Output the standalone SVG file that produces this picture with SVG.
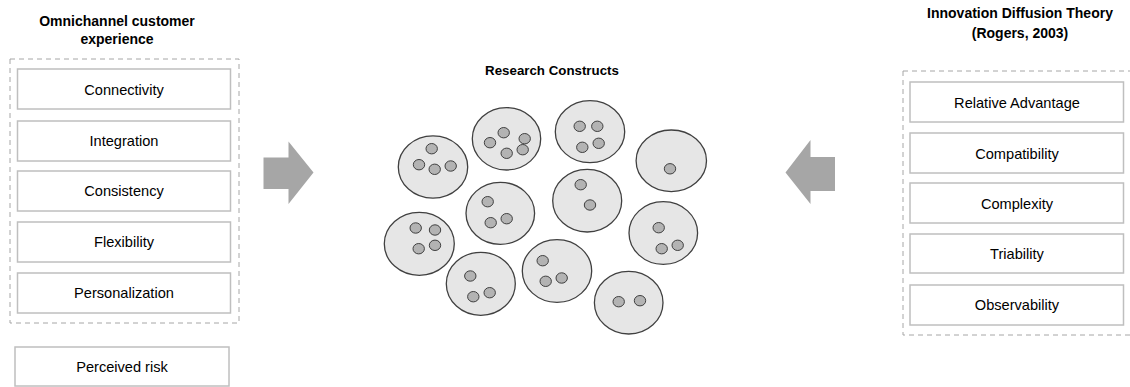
<svg xmlns="http://www.w3.org/2000/svg" width="1130" height="387" viewBox="0 0 1130 387">
<style>
.title{font-family:"Liberation Sans",Arial,sans-serif;font-weight:bold;font-size:14px;fill:#000;text-anchor:middle}
.lbl{font-family:"Liberation Sans",Arial,sans-serif;font-size:14.6px;fill:#000;text-anchor:middle}
.box{fill:#fff;stroke:#bfbfbf;stroke-width:1.5}
.group{fill:none;stroke:#a6a6a6;stroke-width:1;stroke-dasharray:5 4}
.big{fill:#e6e6e6;stroke:#404040;stroke-width:1.3}
.dot{fill:#b3b3b3;stroke:#404040;stroke-width:1}
.arrow{fill:#a6a6a6}
</style>
<rect width="1130" height="387" fill="#fff"/>

<g id="left-panel">
<text class="title" x="117" y="26">Omnichannel customer</text>
<text class="title" x="117" y="44">experience</text>
<rect class="group" x="10" y="59" width="229" height="264"/>
<g id="connectivity"><rect class="box" x="17.5" y="69" width="213" height="40"/><text class="lbl" x="124" y="95">Connectivity</text></g>
<g id="integration"><rect class="box" x="17.5" y="121" width="213" height="40"/><text class="lbl" x="124" y="146">Integration</text></g>
<g id="consistency"><rect class="box" x="17.5" y="171" width="213" height="40"/><text class="lbl" x="124" y="196">Consistency</text></g>
<g id="flexibility"><rect class="box" x="17.5" y="222" width="213" height="40"/><text class="lbl" x="124" y="247">Flexibility</text></g>
<g id="personalization"><rect class="box" x="17.5" y="273" width="213" height="40"/><text class="lbl" x="124" y="298">Personalization</text></g>
</g>
<g id="perceived-risk"><rect class="box" x="15" y="347" width="214" height="39"/><text class="lbl" x="122" y="372">Perceived risk</text></g>

<g id="right-panel">
<text class="title" x="1020" y="18">Innovation Diffusion Theory</text>
<text class="title" x="1020" y="38">(Rogers, 2003)</text>
<rect class="group" x="903" y="71" width="229" height="264"/>
<g id="relative-advantage"><rect class="box" x="910" y="82" width="213.5" height="40"/><text class="lbl" x="1017" y="108">Relative Advantage</text></g>
<g id="compatibility"><rect class="box" x="910" y="133" width="213.5" height="40"/><text class="lbl" x="1017" y="159">Compatibility</text></g>
<g id="complexity"><rect class="box" x="910" y="183" width="213.5" height="40"/><text class="lbl" x="1017" y="209">Complexity</text></g>
<g id="triability"><rect class="box" x="910" y="234" width="213.5" height="39"/><text class="lbl" x="1017" y="259">Triability</text></g>
<g id="observability"><rect class="box" x="910" y="285" width="213.5" height="40"/><text class="lbl" x="1017" y="310">Observability</text></g>
</g>

<g id="connectors">
<polygon class="arrow" points="263.5,157.5 288.5,157.5 288.5,141.5 313.5,172.5 288.5,204 288.5,189 263.5,189"/>
<polygon class="arrow" points="835,157 810.5,157 810.5,140 785.5,172.5 810.5,204 810.5,191 835,191"/>
</g>

<g id="research-constructs">
<text class="title" x="552" y="75" style="font-size:13.3px">Research Constructs</text>
<g id="c1"><ellipse class="big" cx="433" cy="167" rx="34.7" ry="31.2"/>
<ellipse class="dot" cx="431.7" cy="148.7" rx="5.7" ry="5.2"/><ellipse class="dot" cx="419" cy="164.7" rx="5.7" ry="5.2"/><ellipse class="dot" cx="434.7" cy="169.3" rx="5.7" ry="5.2"/><ellipse class="dot" cx="450.7" cy="166" rx="5.7" ry="5.2"/></g>
<g id="c2"><ellipse class="big" cx="506.5" cy="138.8" rx="34.2" ry="31.2"/>
<ellipse class="dot" cx="503.7" cy="132.7" rx="5.7" ry="5.2"/><ellipse class="dot" cx="490" cy="142.7" rx="5.7" ry="5.2"/><ellipse class="dot" cx="506.7" cy="153.3" rx="5.7" ry="5.2"/><ellipse class="dot" cx="524.7" cy="138.7" rx="5.7" ry="5.2"/><ellipse class="dot" cx="522.7" cy="149.7" rx="5.7" ry="5.2"/></g>
<g id="c3"><ellipse class="big" cx="590" cy="131.7" rx="34.7" ry="31"/>
<ellipse class="dot" cx="579.7" cy="126.3" rx="5.7" ry="5.2"/><ellipse class="dot" cx="597.3" cy="126.3" rx="5.7" ry="5.2"/><ellipse class="dot" cx="582.3" cy="147.3" rx="5.7" ry="5.2"/><ellipse class="dot" cx="598.7" cy="143.3" rx="5.7" ry="5.2"/></g>
<g id="c4"><ellipse class="big" cx="671.3" cy="160.8" rx="35.2" ry="30.8"/>
<ellipse class="dot" cx="670" cy="168.8" rx="5.7" ry="5.2"/></g>
<g id="c5"><ellipse class="big" cx="500.3" cy="213.3" rx="34.3" ry="31"/>
<ellipse class="dot" cx="487.7" cy="201.7" rx="5.7" ry="5.2"/><ellipse class="dot" cx="490.7" cy="222.7" rx="5.7" ry="5.2"/><ellipse class="dot" cx="506.7" cy="218.7" rx="5.7" ry="5.2"/></g>
<g id="c6"><ellipse class="big" cx="587.2" cy="200.7" rx="34.5" ry="31.3"/>
<ellipse class="dot" cx="580.7" cy="184.7" rx="5.7" ry="5.2"/><ellipse class="dot" cx="590" cy="205" rx="5.7" ry="5.2"/></g>
<g id="c7"><ellipse class="big" cx="419.3" cy="243.8" rx="35" ry="31.5"/>
<ellipse class="dot" cx="415.7" cy="228" rx="5.7" ry="5.2"/><ellipse class="dot" cx="435" cy="230" rx="5.7" ry="5.2"/><ellipse class="dot" cx="418.7" cy="248.7" rx="5.7" ry="5.2"/><ellipse class="dot" cx="435" cy="245.3" rx="5.7" ry="5.2"/></g>
<g id="c8"><ellipse class="big" cx="480.8" cy="283.8" rx="34.5" ry="31.5"/>
<ellipse class="dot" cx="470.3" cy="276" rx="5.7" ry="5.2"/><ellipse class="dot" cx="473.3" cy="296.7" rx="5.7" ry="5.2"/><ellipse class="dot" cx="489.7" cy="292.7" rx="5.7" ry="5.2"/></g>
<g id="c9"><ellipse class="big" cx="557" cy="271" rx="34.7" ry="31.3"/>
<ellipse class="dot" cx="542.7" cy="260.7" rx="5.7" ry="5.2"/><ellipse class="dot" cx="545.7" cy="281.3" rx="5.7" ry="5.2"/><ellipse class="dot" cx="561.7" cy="278" rx="5.7" ry="5.2"/></g>
<g id="c10"><ellipse class="big" cx="663.3" cy="233" rx="34.3" ry="31.3"/>
<ellipse class="dot" cx="658.7" cy="227.7" rx="5.7" ry="5.2"/><ellipse class="dot" cx="661.7" cy="248.7" rx="5.7" ry="5.2"/><ellipse class="dot" cx="677.7" cy="245.3" rx="5.7" ry="5.2"/></g>
<g id="c11"><ellipse class="big" cx="628.7" cy="302.7" rx="34.3" ry="31.3"/>
<ellipse class="dot" cx="618.7" cy="301.7" rx="5.7" ry="5.2"/><ellipse class="dot" cx="640" cy="300.7" rx="5.7" ry="5.2"/></g>
</g>
</svg>
